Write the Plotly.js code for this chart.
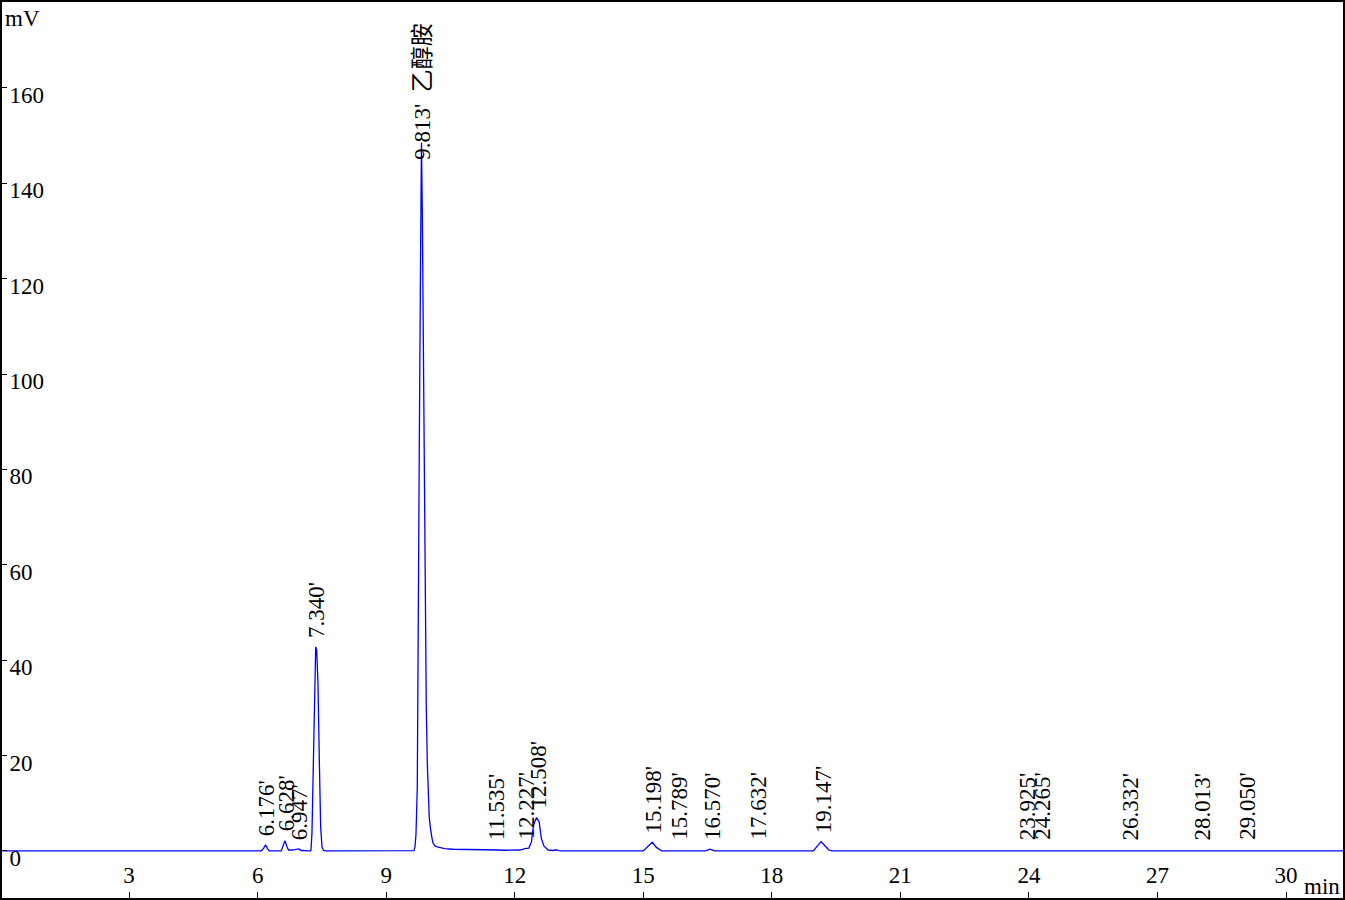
<!DOCTYPE html>
<html>
<head>
<meta charset="utf-8">
<script src="https://cdn.plot.ly/plotly-3.0.1.min.js"></script>
<style>html,body{margin:0;padding:0;background:#fff;}#chart{width:1345px;height:900px;}</style>
</head>
<body>
<div id="chart"></div>
<script>
// Chromatogram signal (time in min, signal in mV)
const timeMin = [0.03, 6.09, 6.14, 6.188, 6.23, 6.27, 6.55, 6.60, 6.638, 6.68, 6.72, 6.80, 6.90, 6.965, 7.02, 7.10, 7.20,
  7.238, 7.245, 7.268, 7.30, 7.331, 7.355, 7.378, 7.408, 7.439, 7.471, 7.502, 7.537, 7.60,
  9.60, 9.649, 9.672, 9.695, 9.726, 9.749, 9.772, 9.804, 9.824, 9.843, 9.866, 9.889, 9.912, 9.935, 9.959, 9.982,
  10.005, 10.029, 10.045, 10.069, 10.092, 10.138, 10.209, 10.37, 10.56, 11.19, 11.40, 11.50, 11.56, 11.62, 11.75,
  12.12, 12.24, 12.33, 12.39, 12.44, 12.51, 12.57, 12.62, 12.68, 12.78, 12.90, 12.96, 13.02, 13.10,
  15.00, 15.10, 15.21, 15.30, 15.38, 15.43, 16.45, 16.56, 16.66,
  18.97, 19.05, 19.15, 19.25, 19.33, 19.40, 31.33];
const signalMV = [0, 0, 0.6, 1.26, 0.5, 0, 0, 1.2, 2.16, 1.0, 0.2, 0.2, 0.3, 0.42, 0.1, 0, 0,
  0, 0.2, 3.8, 17.0, 34.4, 42.8, 42.1, 35.2, 19.1, 5.0, 0.84, 0.1, 0,
  0, 0.06, 0.84, 3.4, 13.4, 39.6, 83.7, 126.6, 148.5, 133.8, 107.1, 76.7, 50.1, 30.6, 18.5, 11.1,
  7.1, 5.0, 3.8, 2.7, 1.7, 1.05, 0.78, 0.48, 0.36, 0.27, 0.22, 0.25, 0.35, 0.2, 0.15,
  0.2, 0.5, 0.6, 1.9, 5.5, 7.0, 6.1, 2.7, 1.05, 0.2, 0.1, 0.25, 0.05, 0,
  0, 0.9, 1.82, 0.8, 0.2, 0, 0, 0.36, 0,
  0, 0.9, 1.95, 1.0, 0.2, 0, 0];

// Peak table
const peakTimes = [6.176, 6.628, 6.947, 7.340, 9.813, 11.535, 12.227, 12.508, 15.198, 15.789, 16.570, 17.632, 19.147, 23.925, 24.265, 26.332, 28.013, 29.050];
const peakLabels = ["6.176'", "6.628'", "6.947'", "7.340'", "9.813'", "11.535'", "12.227'", "12.508'", "15.198'", "15.789'", "16.570'", "17.632'", "19.147'", "23.925'", "24.265'", "26.332'", "28.013'", "29.050'"];
const peakHeights = [1.26, 2.16, 0.42, 42.8, 148.5, 0.35, 0.5, 7.0, 1.82, 0, 0.36, 0, 1.95, 0, 0, 0, 0, 0];
const peakNames = ["", "", "", "", "乙醇胺", "", "", "", "", "", "", "", "", "", "", "", "", ""];

const xTicks = [3, 6, 9, 12, 15, 18, 21, 24, 27, 30];
const yTicks = [0, 20, 40, 60, 80, 100, 120, 140, 160];

const FONT = "'Liberation Serif', 'Times New Roman', 'Noto Sans CJK SC', serif";

const annotations = peakTimes.map((t, i) => ({
  x: t, y: Math.max(peakHeights[i], 0.4), xref: 'x', yref: 'y',
  text: peakNames[i] ? peakLabels[i] + '\u00a0\u00a0' + peakNames[i] : peakLabels[i],
  textangle: -90, showarrow: false, xanchor: 'center', yanchor: 'bottom',
  xshift: 2, yshift: peakNames[i] ? -19 : 7,
  font: {family: FONT, size: 23, color: '#000'}
}));
annotations.push({xref: 'paper', yref: 'paper', x: 0, y: 1, xanchor: 'left', yanchor: 'top', xshift: 1, yshift: -2,
  text: 'mV', showarrow: false, font: {family: FONT, size: 23, color: '#000'}});
annotations.push({xref: 'paper', yref: 'paper', x: 1, y: 0, xanchor: 'right', yanchor: 'bottom', xshift: -1, yshift: -3,
  text: 'min', showarrow: false, font: {family: FONT, size: 23, color: '#000'}});

const trace = {x: timeMin, y: signalMV, type: 'scatter', mode: 'lines',
  line: {color: '#0000ff', width: 1.3}, hoverinfo: 'skip'};

const layout = {
  width: 1345, height: 900,
  margin: {l: 2, r: 2, t: 2, b: 2, pad: 0},
  paper_bgcolor: '#fff', plot_bgcolor: '#fff',
  showlegend: false,
  xaxis: {range: [0.034, 31.33], tickvals: xTicks, ticktext: xTicks.map(String),
    ticks: 'inside', ticklen: 6, tickwidth: 1, tickcolor: '#000',
    showline: true, linecolor: '#000', linewidth: 2, mirror: true,
    showgrid: false, zeroline: false, ticklabelposition: 'inside', ticklabelstandoff: 6,
    tickfont: {family: FONT, size: 23, color: '#000'}},
  yaxis: {range: [-9.86, 178.0], tickvals: yTicks, ticktext: yTicks.map(String),
    ticks: 'inside', ticklen: 5, tickwidth: 1, tickcolor: '#000',
    showline: true, linecolor: '#000', linewidth: 2, mirror: true,
    showgrid: false, zeroline: false, ticklabelposition: 'inside', ticklabelshift: 7, ticklabelstandoff: 4,
    tickfont: {family: FONT, size: 23, color: '#000'}},
  annotations: annotations
};

Plotly.newPlot('chart', [trace], layout, {displayModeBar: false, staticPlot: true});
</script>
</body>
</html>
